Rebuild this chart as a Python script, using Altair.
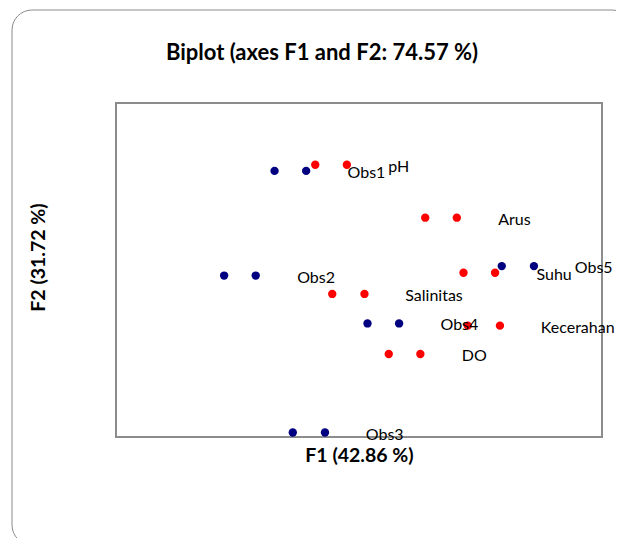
import altair as alt
import pandas as pd

names = ["Obs1", "pH", "Arus", "Obs2", "Suhu", "Obs5", "Salinitas", "Obs4", "Kecerahan", "DO", "Obs3"]
groups = ["Obs", "Var", "Var", "Obs", "Var", "Obs", "Var", "Obs", "Var", "Var", "Obs"]
f1_a = [-1.39, -0.72, 1.09, -2.22, 1.72, 2.35, -0.44, 0.14, 1.79, 0.49, -1.09]
f1_b = [-0.87, -0.20, 1.61, -1.70, 2.24, 2.88, 0.09, 0.66, 2.32, 1.01, -0.56]
f2 = [1.78, 1.89, 0.94, -0.10, -0.05, 0.07, -0.43, -0.96, -1.00, -1.51, -2.92]

df = pd.DataFrame({"name": names, "group": groups, "f1a": f1_a, "f1b": f1_b, "f2": f2})

W, H = 486, 334
FONT = "Lato"

xs = alt.Scale(domain=[-4, 4], nice=False, zero=False)
ys = alt.Scale(domain=[-3, 3], nice=False, zero=False)
col = alt.Color("group:N", scale=alt.Scale(domain=["Obs", "Var"], range=["#000080", "#ff0000"]), legend=None)

xax = alt.Axis(title="F1 (42.86 %)", grid=False, ticks=False, labels=False, domain=False,
               titleFont=FONT, titleFontSize=19.5, titleFontWeight="bold", titleColor="#000",
               titlePadding=9)
yax = alt.Axis(title="F2 (31.72 %)", grid=False, ticks=False, labels=False, domain=False,
               titleFont=FONT, titleFontSize=19.5, titleFontWeight="bold", titleColor="#000",
               titlePadding=68, titleY=154)

base = alt.Chart(df)
pa = base.mark_circle(size=70, opacity=1).encode(
    x=alt.X("f1a:Q", scale=xs, axis=xax), y=alt.Y("f2:Q", scale=ys, axis=yax), color=col)
pb = base.mark_circle(size=70, opacity=1).encode(
    x=alt.X("f1b:Q", scale=xs), y=alt.Y("f2:Q", scale=ys), color=col)
lab = base.mark_text(align="left", baseline="middle", dx=73, dy=2, font=FONT, fontSize=16, color="#000").encode(
    x=alt.X("f1a:Q", scale=xs), y=alt.Y("f2:Q", scale=ys), text="name:N")

border = alt.Chart(alt.Data(values=[{}])).mark_rect(
    fill=None, stroke="#8c8c8c", strokeWidth=1, cornerRadius=20).encode(
    x=alt.value(-104), x2=alt.value(W + 30), y=alt.value(-93), y2=alt.value(H + 108))

chart = alt.layer(border, pa, pb, lab).properties(
    width=W, height=H,
    title=alt.TitleParams("Biplot (axes F1 and F2: 74.57 %)", font=FONT, fontSize=22,
                          fontWeight="bold", color="#000", anchor="middle", frame="group",
                          dx=-37, offset=-55),
    autosize=alt.AutoSizeParams(type="none"),
    padding={"left": 108, "top": 95, "right": 14, "bottom": 101},
).configure_view(stroke="#8c8c8c", strokeWidth=2)

chart.save("out.html", embed_options={"renderer": "svg", "actions": False})
